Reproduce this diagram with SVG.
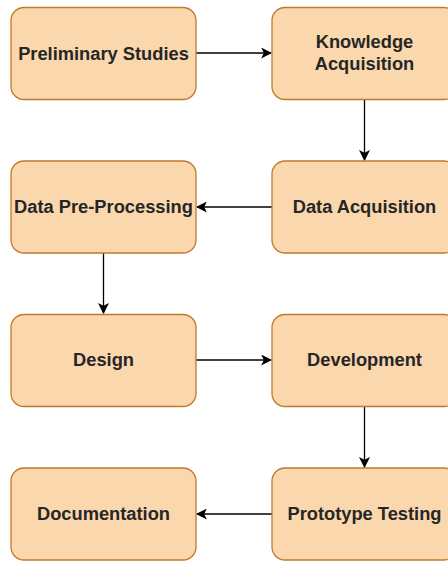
<svg xmlns="http://www.w3.org/2000/svg" width="448" height="561" viewBox="0 0 448 561">
  <defs>
    <style>
      .box { fill: #fad7ac; stroke: #c07a2c; stroke-width: 1.3; }
      .lbl { font-family: "Liberation Sans", Arial, sans-serif; font-size: 18.3px; font-weight: bold; fill: #262626; text-anchor: middle; }
      .edge { stroke: #000; stroke-width: 1.3; fill: none; marker-end: url(#arrow); }
    </style>
    <marker id="arrow" viewBox="0 0 10 10" refX="9" refY="5" markerWidth="11" markerHeight="11" markerUnits="userSpaceOnUse" orient="auto">
      <path d="M0,0 L10,5 L0,10 L2.5,5 Z" fill="#000"/>
    </marker>
  </defs>
  <rect width="448" height="561" fill="#fff"/>

  <g id="connectors">
    <line class="edge" x1="196" y1="53" x2="271" y2="53"/>
    <line class="edge" x1="364.5" y1="99" x2="364.5" y2="160"/>
    <line class="edge" x1="272" y1="207" x2="197" y2="207"/>
    <line class="edge" x1="103.5" y1="253" x2="103.5" y2="313"/>
    <line class="edge" x1="196" y1="360" x2="271" y2="360"/>
    <line class="edge" x1="364.5" y1="406" x2="364.5" y2="467"/>
    <line class="edge" x1="272" y1="514" x2="197" y2="514"/>
  </g>

  <g id="preliminary-studies">
    <rect class="box" x="11" y="7.5" width="185" height="92" rx="13"/>
    <text class="lbl" x="103.5" y="59.5">Preliminary Studies</text>
  </g>
  <g id="knowledge-acquisition">
    <rect class="box" x="272" y="7.5" width="185" height="92" rx="13"/>
    <text class="lbl" x="364.5" y="48">Knowledge</text>
    <text class="lbl" x="364.5" y="70">Acquisition</text>
  </g>
  <g id="data-pre-processing">
    <rect class="box" x="11" y="161" width="185" height="92" rx="13"/>
    <text class="lbl" x="103.5" y="213">Data Pre-Processing</text>
  </g>
  <g id="data-acquisition">
    <rect class="box" x="272" y="161" width="185" height="92" rx="13"/>
    <text class="lbl" x="364.5" y="213">Data Acquisition</text>
  </g>
  <g id="design">
    <rect class="box" x="11" y="314.5" width="185" height="92" rx="13"/>
    <text class="lbl" x="103.5" y="366">Design</text>
  </g>
  <g id="development">
    <rect class="box" x="272" y="314.5" width="185" height="92" rx="13"/>
    <text class="lbl" x="364.5" y="366">Development</text>
  </g>
  <g id="documentation">
    <rect class="box" x="11" y="468" width="185" height="92" rx="13"/>
    <text class="lbl" x="103.5" y="520">Documentation</text>
  </g>
  <g id="prototype-testing">
    <rect class="box" x="272" y="468" width="185" height="92" rx="13"/>
    <text class="lbl" x="364.5" y="520">Prototype Testing</text>
  </g>
</svg>
